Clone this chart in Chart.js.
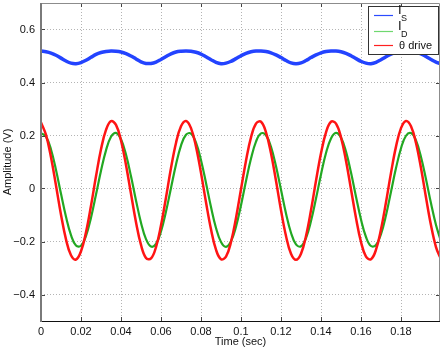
<!DOCTYPE html>
<html>
<head>
<meta charset="utf-8">
<script src="https://cdn.jsdelivr.net/npm/chart.js@4/dist/chart.umd.min.js"></script>
<style>
  html, body { margin: 0; padding: 0; background: #fff; }
  #wrap { width: 443px; height: 349px; }
</style>
</head>
<body>
<div id="wrap"><canvas id="c"></canvas></div>
<script>
const FONT = "'Liberation Sans', Arial, sans-serif";

// time axis (s)
const times = [
  0, 0.0025, 0.005, 0.0075, 0.01, 0.0125, 0.015, 0.0175, 0.02, 0.0225,
  0.025, 0.0275, 0.03, 0.0325, 0.035, 0.0375, 0.04, 0.0425, 0.045, 0.0475,
  0.05, 0.0525, 0.055, 0.0575, 0.06, 0.0625, 0.065, 0.0675, 0.07, 0.0725,
  0.075, 0.0775, 0.08, 0.0825, 0.085, 0.0875, 0.09, 0.0925, 0.095, 0.0975,
  0.1, 0.1025, 0.105, 0.1075, 0.11, 0.1125, 0.115, 0.1175, 0.12, 0.1225,
  0.125, 0.1275, 0.13, 0.1325, 0.135, 0.1375, 0.14, 0.1425, 0.145, 0.1475,
  0.15, 0.1525, 0.155, 0.1575, 0.16, 0.1625, 0.165, 0.1675, 0.17, 0.1725,
  0.175, 0.1775, 0.18, 0.1825, 0.185, 0.1875, 0.19, 0.1925, 0.195, 0.1975,
  0.1995
];

// I_S
const iS = [
  0.519, 0.516, 0.511, 0.503, 0.492, 0.481, 0.473, 0.471, 0.475, 0.484,
  0.495, 0.506, 0.513, 0.517, 0.519, 0.518, 0.515, 0.509, 0.500, 0.489,
  0.478, 0.472, 0.472, 0.477, 0.487, 0.498, 0.508, 0.515, 0.518, 0.519,
  0.518, 0.514, 0.507, 0.497, 0.486, 0.476, 0.471, 0.473, 0.480, 0.490,
  0.501, 0.510, 0.516, 0.519, 0.519, 0.517, 0.512, 0.504, 0.494, 0.483,
  0.474, 0.471, 0.474, 0.483, 0.494, 0.504, 0.512, 0.517, 0.519, 0.519,
  0.516, 0.510, 0.501, 0.490, 0.480, 0.473, 0.471, 0.476, 0.486, 0.497,
  0.507, 0.514, 0.518, 0.519, 0.518, 0.515, 0.508, 0.498, 0.487, 0.477,
  0.472
];

// I_D
const iD = [
  0.209, 0.196, 0.147, 0.070, -0.020, -0.107, -0.176, -0.215, -0.216, -0.179,
  -0.110, -0.023, 0.067, 0.144, 0.195, 0.210, 0.186, 0.128, 0.046, -0.045,
  -0.129, -0.191, -0.219, -0.209, -0.162, -0.087, 0.002, 0.091, 0.162, 0.203,
  0.207, 0.173, 0.107, 0.021, -0.070, -0.149, -0.202, -0.220, -0.199, -0.144,
  -0.063, 0.028, 0.113, 0.177, 0.208, 0.201, 0.157, 0.084, -0.005, -0.094,
  -0.167, -0.211, -0.218, -0.187, -0.123, -0.038, 0.053, 0.134, 0.189, 0.210,
  0.192, 0.139, 0.060, -0.031, -0.117, -0.183, -0.217, -0.213, -0.172, -0.101,
  -0.012, 0.077, 0.152, 0.199, 0.209, 0.181, 0.119, 0.035, -0.056, -0.138,
  -0.187
];

// theta drive
const thetaDrive = [
  0.249, 0.202, 0.118, 0.011, -0.099, -0.192, -0.252, -0.268, -0.237, -0.165,
  -0.065, 0.046, 0.148, 0.221, 0.254, 0.240, 0.181, 0.089, -0.020, -0.127,
  -0.213, -0.262, -0.264, -0.221, -0.139, -0.034, 0.077, 0.172, 0.235, 0.255,
  0.228, 0.158, 0.059, -0.052, -0.154, -0.231, -0.267, -0.257, -0.202, -0.111,
  -0.003, 0.105, 0.193, 0.245, 0.252, 0.212, 0.133, 0.029, -0.082, -0.179,
  -0.246, -0.269, -0.246, -0.179, -0.082, 0.029, 0.133, 0.212, 0.252, 0.245,
  0.193, 0.105, -0.003, -0.111, -0.202, -0.257, -0.267, -0.231, -0.154, -0.052,
  0.059, 0.158, 0.228, 0.255, 0.235, 0.172, 0.077, -0.034, -0.139, -0.221,
  -0.259
];

const xTicks = [0, 0.02, 0.04, 0.06, 0.08, 0.1, 0.12, 0.14, 0.16, 0.18];
const yTicks = [-0.4, -0.2, 0, 0.2, 0.4, 0.6];

// legend: main text + subscript, line colours
const legendMain = ["I", "I", "θ drive"];
const legendSub = ["S", "D", ""];
const legendColors = ["#2b4bff", "#6fd86f", "#ff2020"];

const pts = (ys) => times.map((t, i) => ({ x: t, y: ys[i] }));
const fmt = (v) => {
  const s = String(+v.toFixed(2));
  return s.startsWith("-") ? "\u2212" + s.slice(1) : s;
};

// MATLAB-like frame, inward ticks and legend box
const matlabFrame = {
  id: "matlabFrame",
  afterDatasetsDraw(chart) {
    const { ctx, chartArea: a, scales: { x, y } } = chart;
    ctx.save();
    ctx.lineWidth = 1;
    ctx.strokeStyle = "#444";
    ctx.beginPath();
    xTicks.forEach((v) => {
      const px = Math.round(x.getPixelForValue(v)) + 0.5;
      ctx.moveTo(px, a.bottom); ctx.lineTo(px, a.bottom - 4);
      ctx.moveTo(px, a.top); ctx.lineTo(px, a.top + 4);
    });
    yTicks.forEach((v) => {
      const py = Math.round(y.getPixelForValue(v)) + 0.5;
      ctx.moveTo(a.left, py); ctx.lineTo(a.left + 4, py);
      ctx.moveTo(a.right, py); ctx.lineTo(a.right - 4, py);
    });
    ctx.stroke();

    // top / right
    ctx.strokeStyle = "#8c8c8c";
    ctx.beginPath();
    ctx.moveTo(a.left, a.top + 0.5); ctx.lineTo(a.right - 0.5, a.top + 0.5);
    ctx.lineTo(a.right - 0.5, a.bottom);
    ctx.stroke();
    // bottom
    ctx.strokeStyle = "#111";
    ctx.beginPath();
    ctx.moveTo(a.left, a.bottom + 0.5); ctx.lineTo(a.right, a.bottom + 0.5);
    ctx.stroke();
    // left
    ctx.strokeStyle = "#7a7a7a";
    ctx.lineWidth = 2;
    ctx.beginPath();
    ctx.moveTo(a.left, a.top); ctx.lineTo(a.left, a.bottom + 1);
    ctx.stroke();

    // legend
    const bx = a.right - 72, by = a.top + 3, bw = 70, bh = 48;
    ctx.fillStyle = "#fff";
    ctx.fillRect(bx, by, bw, bh);
    ctx.lineWidth = 1;
    ctx.strokeStyle = "#333";
    ctx.strokeRect(bx + 0.5, by + 0.5, bw, bh);
    const rows = [by + 9.5, by + 25.5, by + 39.5];
    legendMain.forEach((txt, i) => {
      const ly = rows[i];
      ctx.strokeStyle = legendColors[i];
      ctx.lineWidth = 1.2;
      ctx.beginPath();
      ctx.moveTo(bx + 6, ly); ctx.lineTo(bx + 25, ly);
      ctx.stroke();
      ctx.fillStyle = "#111";
      ctx.textBaseline = "alphabetic";
      if (legendSub[i]) {
        ctx.font = "13px " + FONT;
        ctx.fillText(txt, bx + 30, ly - 1.5);
        ctx.font = "9px " + FONT;
        ctx.fillText(legendSub[i], bx + 33, ly + 5.5);
      } else {
        ctx.font = "11px " + FONT;
        ctx.fillText(txt, bx + 31, ly + 3.5);
      }
    });
    ctx.restore();
  }
};

new Chart(document.getElementById("c"), {
  type: "line",
  data: {
    datasets: [
      { label: "I_S", data: pts(iS), borderColor: "#2343ff", borderWidth: 3.5, order: 3 },
      { label: "I_D", data: pts(iD), borderColor: "#22a822", borderWidth: 2.2, order: 2 },
      { label: "θ drive", data: pts(thetaDrive), borderColor: "#ff1414", borderWidth: 2.5, order: 1 },
    ],
  },
  options: {
    responsive: true, maintainAspectRatio: false, animation: false,
    elements: { point: { radius: 0 }, line: { tension: 0.4 } },
    layout: { padding: { top: 3, right: 3, left: 0, bottom: 0 } },
    scales: {
      x: {
        type: "linear", min: 0, max: 0.1995,
        afterBuildTicks: (s) => { s.ticks = xTicks.map((v) => ({ value: v })); },
        afterFit: (s) => { s.height = 28; s.paddingLeft = 0; s.paddingRight = 0; },
        ticks: { color: "#111", font: { family: FONT, size: 11 }, padding: 4, callback: fmt, maxRotation: 0, autoSkip: false },
        grid: { color: "#b4b4b4", drawTicks: false },
        border: { display: false, dash: [1, 2] },
        title: { display: true, text: "Time (sec)", color: "#111", font: { family: FONT, size: 11 }, padding: { top: 0, bottom: 0 } },
      },
      y: {
        min: -0.5, max: 0.7,
        afterBuildTicks: (s) => { s.ticks = yTicks.map((v) => ({ value: v })); },
        afterFit: (s) => { s.width = 41; s.paddingTop = 0; s.paddingBottom = 0; },
        ticks: { color: "#111", font: { family: FONT, size: 11 }, padding: 6, callback: fmt, autoSkip: false },
        grid: { color: "#b4b4b4", drawTicks: false },
        border: { display: false, dash: [1, 2] },
        title: { display: true, text: "Amplitude (V)", color: "#111", font: { family: FONT, size: 11 }, padding: { top: 1, bottom: 0 } },
      },
    },
    plugins: { legend: { display: false }, tooltip: { enabled: false } },
  },
  plugins: [matlabFrame],
});
</script>
</body>
</html>
